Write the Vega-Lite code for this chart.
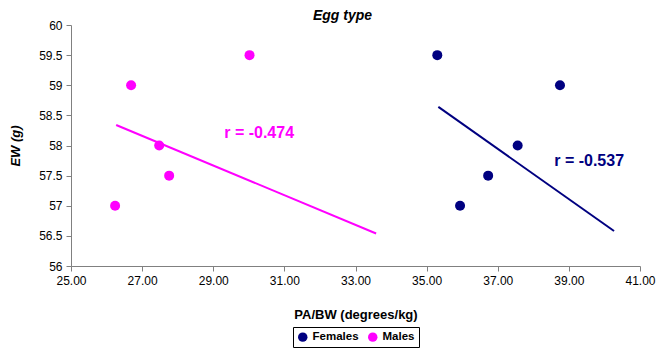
{
  "$schema": "https://vega.github.io/schema/vega-lite/v6.json",
  "autosize": "none",
  "width": 569,
  "height": 241,
  "padding": {"left": 71, "top": 25, "right": 18, "bottom": 86},
  "background": "white",
  "config": {
    "view": {"stroke": null},
    "font": "Liberation Sans",
    "axis": {"grid": false, "domainColor": "#808080", "tickColor": "#808080", "tickSize": 5, "labelFont": "Liberation Sans", "labelFontSize": 12, "labelColor": "black", "titleFont": "Liberation Sans", "titleFontSize": 13, "titleColor": "black", "titleFontWeight": "bold", "labelFlush": false, "labelOverlap": false}
  },
  "title": {"text": "Egg type", "font": "Liberation Sans", "fontSize": 14, "fontWeight": "bold", "fontStyle": "italic", "dx": -13, "offset": -4},
  "datasets": {
    "pts": [
      {"sex": "Males", "pabw": 30.02, "ew": 59.5},
      {"sex": "Males", "pabw": 26.69, "ew": 59.0},
      {"sex": "Males", "pabw": 27.48, "ew": 58.0},
      {"sex": "Males", "pabw": 27.76, "ew": 57.5},
      {"sex": "Males", "pabw": 26.24, "ew": 57.0},
      {"sex": "Females", "pabw": 35.30, "ew": 59.5},
      {"sex": "Females", "pabw": 38.75, "ew": 59.0},
      {"sex": "Females", "pabw": 37.56, "ew": 58.0},
      {"sex": "Females", "pabw": 36.73, "ew": 57.5},
      {"sex": "Females", "pabw": 35.94, "ew": 57.0}
    ],
    "fits": [
      {"sex": "Males", "pabw": 26.27, "ew": 58.34},
      {"sex": "Males", "pabw": 33.58, "ew": 56.54},
      {"sex": "Females", "pabw": 35.33, "ew": 58.64},
      {"sex": "Females", "pabw": 40.27, "ew": 56.58}
    ],
    "labels": [
      {"sex": "Males", "pabw": 30.29, "ew": 58.21, "label": "r = -0.474"},
      {"sex": "Females", "pabw": 39.57, "ew": 57.74, "label": "r = -0.537"}
    ]
  },
  "layer": [
    {
      "data": {"name": "pts"},
      "mark": {"type": "circle", "size": 100, "opacity": 1},
      "encoding": {
        "x": {"field": "pabw", "type": "quantitative", "scale": {"domain": [25, 41], "nice": false, "zero": false}, "axis": {"values": [25, 27, 29, 31, 33, 35, 37, 39, 41], "tickCount": 20, "format": ".2f", "title": "PA/BW (degrees/kg)", "titlePadding": 22, "labelPadding": 4}},
        "y": {"field": "ew", "type": "quantitative", "scale": {"domain": [56, 60], "nice": false, "zero": false}, "axis": {"values": [56, 56.5, 57, 57.5, 58, 58.5, 59, 59.5, 60], "tickCount": 20, "labelExpr": "'' + datum.value", "title": "EW (g)", "titleFontStyle": "italic", "labelPadding": 4, "titlePadding": 16}},
        "color": {"field": "sex", "type": "nominal", "title": null, "scale": {"domain": ["Females", "Males"], "range": ["#000080", "#FF00FF"]},
          "legend": {"orient": "none", "legendX": 222, "legendY": 302, "direction": "horizontal", "strokeColor": "black", "padding": 4, "symbolType": "circle", "symbolSize": 90, "labelFontSize": 11.5, "labelFontWeight": "bold", "labelFont": "Liberation Sans", "labelColor": "black", "columnPadding": 8, "symbolOpacity": 1}}
      }
    },
    {
      "data": {"name": "fits"},
      "transform": [{"filter": "datum.sex == 'Males'"}],
      "mark": {"type": "line", "strokeWidth": 2, "color": "#FF00FF"},
      "encoding": {
        "x": {"field": "pabw", "type": "quantitative"},
        "y": {"field": "ew", "type": "quantitative"}
      }
    },
    {
      "data": {"name": "fits"},
      "transform": [{"filter": "datum.sex == 'Females'"}],
      "mark": {"type": "line", "strokeWidth": 2, "color": "#000080"},
      "encoding": {
        "x": {"field": "pabw", "type": "quantitative"},
        "y": {"field": "ew", "type": "quantitative"}
      }
    },
    {
      "data": {"name": "labels"},
      "transform": [{"filter": "datum.sex == 'Males'"}],
      "mark": {"type": "text", "fontSize": 16, "fontWeight": "bold", "font": "Liberation Sans", "color": "#FF00FF"},
      "encoding": {
        "x": {"field": "pabw", "type": "quantitative"},
        "y": {"field": "ew", "type": "quantitative"},
        "text": {"field": "label"}
      }
    },
    {
      "data": {"name": "labels"},
      "transform": [{"filter": "datum.sex == 'Females'"}],
      "mark": {"type": "text", "fontSize": 16, "fontWeight": "bold", "font": "Liberation Sans", "color": "#000080"},
      "encoding": {
        "x": {"field": "pabw", "type": "quantitative"},
        "y": {"field": "ew", "type": "quantitative"},
        "text": {"field": "label"}
      }
    }
  ]
}
